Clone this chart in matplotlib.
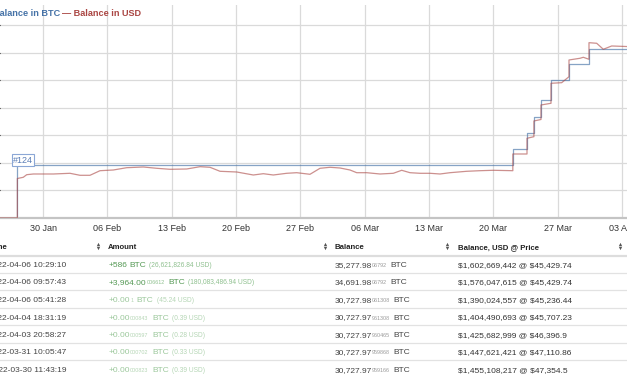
import matplotlib
matplotlib.use('Agg')
import matplotlib.pyplot as plt
import pandas as pd

plt.rcParams['font.family'] = ['Liberation Sans', 'DejaVu Sans']

# balance in BTC (steps)
btc_times = ['2022-01-25 00:00', '2022-01-27 05:00', '2022-03-22 03:00', '2022-03-23 16:00',
             '2022-03-24 10:00', '2022-03-25 04:30', '2022-03-26 06:40', '2022-03-28 05:40',
             '2022-03-30 09:53', '2022-04-04 00:00']
btc_balance = [0, 9653, 12567, 15427, 18342, 21310, 24953, 27868, 30728, 30728]

# balance in USD, millions
usd_times = ['2022-01-25 00:00', '2022-01-27 04:59', '2022-01-27 05:00', '2022-01-27 20:30',
             '2022-01-28 05:25', '2022-01-28 22:40', '2022-01-31 02:54', '2022-02-01 22:30',
             '2022-02-03 00:37', '2022-02-04 02:44', '2022-02-05 04:51', '2022-02-06 15:36',
             '2022-02-08 02:35', '2022-02-09 21:56', '2022-02-11 08:56', '2022-02-12 19:40',
             '2022-02-14 15:16', '2022-02-16 02:01', '2022-02-17 04:08', '2022-02-18 06:14',
             '2022-02-20 01:51', '2022-02-21 21:13', '2022-02-22 23:20', '2022-02-24 01:26',
             '2022-02-25 12:26', '2022-02-26 14:33', '2022-02-28 01:16', '2022-03-01 03:23',
             '2022-03-02 05:31', '2022-03-03 07:38', '2022-03-04 09:44', '2022-03-05 03:14',
             '2022-03-06 05:21', '2022-03-07 16:05', '2022-03-09 02:50', '2022-03-10 00:46',
             '2022-03-10 22:26', '2022-03-12 00:33', '2022-03-13 02:40', '2022-03-14 04:47',
             '2022-03-15 06:53', '2022-03-17 02:30', '2022-03-18 13:15', '2022-03-20 00:00',
             '2022-03-22 02:59', '2022-03-22 03:00', '2022-03-23 15:59', '2022-03-23 16:00',
             '2022-03-24 09:59', '2022-03-24 10:00', '2022-03-25 04:29', '2022-03-25 04:30',
             '2022-03-26 06:39', '2022-03-26 06:40', '2022-03-27 10:36', '2022-03-28 05:39',
             '2022-03-28 05:40', '2022-03-29 10:23', '2022-03-29 19:00', '2022-03-30 09:52',
             '2022-03-30 09:53', '2022-03-31 06:00', '2022-03-31 23:14', '2022-04-01 21:10',
             '2022-04-04 00:00']
usd_balance = [0, 0, 331.8, 341.9, 363.7, 369.6, 369.6, 375.5, 358.7, 358.7, 397.3, 403.2,
               422.5, 428.4, 417.5, 409.1, 411.6, 430.9, 425.9, 392.3, 386.4, 361.2, 372.1,
               361.2, 375.5, 380.5, 367.1, 417.5, 425.9, 420.0, 403.2, 380.5, 380.5, 369.6,
               375.5, 400.7, 380.5, 375.5, 375.5, 369.6, 380.5, 392.3, 397.3, 400.7, 397.3,
               537.6, 537.6, 669.5, 682.9, 814.8, 827.4, 949.2, 963.5, 1131.5, 1136.5,
               1186.9, 1327.2, 1341.5, 1349.9, 1333.1, 1472.5, 1467.5, 1417.1, 1444.8, 1438.9]

tick_dates = ['2022-01-30', '2022-02-06', '2022-02-13', '2022-02-20', '2022-02-27',
              '2022-03-06', '2022-03-13', '2022-03-20', '2022-03-27', '2022-04-03']
tick_labels = ['30 Jan', '06 Feb', '13 Feb', '20 Feb', '27 Feb',
               '06 Mar', '13 Mar', '20 Mar', '27 Mar', '03 Apr']

# table below the chart
tx_time = ['2022-04-06 10:29:10', '2022-04-06 09:57:43', '2022-04-06 05:41:28',
           '2022-04-04 18:31:19', '2022-04-03 20:58:27', '2022-03-31 10:05:47',
           '2022-03-30 11:43:19']
amt_main = ['+586', '+3,964.00', '+0.00', '+0.00', '+0.00', '+0.00', '+0.00']
amt_small = ['', '006612', '1', '000843', '000597', '000702', '000823']
amt_usd = ['(26,621,826.84 USD)', '(180,083,486.94 USD)', '(45.24 USD)', '(0.39 USD)',
           '(0.28 USD)', '(0.33 USD)', '(0.39 USD)']
bal_main = ['35,277.98', '34,691.98', '30,727.98', '30,727.97', '30,727.97',
            '30,727.97', '30,727.97']
bal_small = ['06792', '06792', '061308', '961308', '960465', '959868', '959166']
bal_usd = ['$1,602,669,442 @ $45,429.74', '$1,576,047,615 @ $45,429.74',
           '$1,390,024,557 @ $45,236.44', '$1,404,490,693 @ $45,707.23',
           '$1,425,682,999 @ $46,396.9', '$1,447,621,421 @ $47,110.86',
           '$1,455,108,217 @ $47,354.5']

BLUE = '#4572A7'
RED = '#AA4643'
W, H = 627, 376

fig = plt.figure(figsize=(W / 100, H / 100), dpi=100)
fig.patch.set_facecolor('white')

# chart
ax = fig.add_axes([0, 1 - 218 / H, 1, 213 / H])
ax.set_xlim(pd.Timestamp('2022-01-25 07:42'), pd.Timestamp('2022-04-03 13:08'))
ax.set_ylim(0, 38630)
ax.set_yticks(range(5000, 40000, 5000))
ax.set_xticks(pd.to_datetime(tick_dates).to_pydatetime())
ax.set_xticklabels(tick_labels)
ax.tick_params(axis='y', left=False, labelleft=False)
ax.tick_params(axis='x', length=0, pad=4, labelsize=6.5, colors='#333333')
ax.grid(True, color='#dadada', lw=0.9)
for s in ['top', 'left', 'right']:
    ax.spines[s].set_visible(False)
ax.spines['bottom'].set_color('#c4c4c4')
ax.spines['bottom'].set_linewidth(1.6)

ax.plot(pd.to_datetime(btc_times).to_pydatetime(), btc_balance, drawstyle='steps-post',
        color=BLUE, lw=0.9, alpha=0.65)

ax2 = ax.twinx()
ax2.set_ylim(0, 1789)
ax2.set_yticks([])
for s in ax2.spines.values():
    s.set_visible(False)
ax2.plot(pd.to_datetime(usd_times).to_pydatetime(), usd_balance, color=RED, lw=0.9, alpha=0.6)

ax.annotate('#124', xy=(pd.Timestamp(btc_times[1]), btc_balance[1]), xytext=(4.1, 3.4),
            textcoords='offset points', ha='center', va='center', fontsize=6.5,
            color='#5a7db5', zorder=5,
            bbox=dict(boxstyle='square,pad=0.12', fc='white', ec='#8ba7d6', lw=0.8))

# overlay in pixel coordinates for legend + table
ov = fig.add_axes([0, 0, 1, 1])
ov.set_xlim(0, W)
ov.set_ylim(H, 0)
ov.axis('off')
ov.patch.set_alpha(0)

ov.text(60.5, 13, 'Balance in BTC', ha='right', va='center', fontsize=6.6,
        fontweight='bold', color=BLUE)
ov.text(62, 13, '\u2014 Balance in USD', ha='left', va='center', fontsize=6.6,
        fontweight='bold', color=RED)

renderer = fig.canvas.get_renderer()


def chain(x, y, parts):
    for txt, size, color, gap in parts:
        if not txt:
            continue
        x += gap
        t = ov.text(x, y, txt, fontsize=size, color=color, ha='left', va='baseline',
                    parse_math=False)
        x += t.get_window_extent(renderer).width
    return x


def sort_icon(x, y):
    ov.plot(x, y - 1.8, marker='^', ms=2.4, color='#555555', mew=0)
    ov.plot(x, y + 1.8, marker='v', ms=2.4, color='#555555', mew=0)


# header
hy = 246
ov.text(7.5, hy + 2.7, 'Time', ha='right', va='baseline', fontsize=5.6,
        fontweight='bold', color='#222222')
for x, lab in [(108.3, 'Amount'), (334.5, 'Balance'), (457.7, 'Balance, USD @ Price')]:
    ov.text(x, hy + 2.7, lab, ha='left', va='baseline', fontsize=5.6,
            fontweight='bold', color='#222222')
for x in [97.7, 324.5, 447, 620]:
    sort_icon(x, hy)
ov.plot([0, W], [256.3, 256.3], color='#dddddd', lw=1.6)

row_y = [264, 281.5, 299, 316.5, 334, 351.5, 369]
for yy in [272.5, 290, 307.5, 325, 342.5, 360]:
    ov.plot([0, W], [yy, yy], color='#e2e2e2', lw=0.9)

for i, yc in enumerate(row_y):
    base = yc + 3
    ov.text(66.5, base, tx_time[i], ha='right', va='baseline', fontsize=6, color='#444444')
    if i < 2:
        g1, g2 = '#559955', '#8fc08f'
    else:
        g1, g2 = '#9cc89c', '#b5d6b5'
    btc_gap = 3.6 if amt_small[i] else 2.4
    chain(108.3, base, [(amt_main[i], 6, g1, 0),
                        (amt_small[i], 3.9, g2, 0.4),
                        ('BTC', 6, g1, btc_gap),
                        (amt_usd[i], 4.8, g2, 3.0)])
    chain(334.5, base, [(bal_main[i], 6, '#444444', 0),
                        (bal_small[i], 3.9, '#999999', 0.4),
                        ('BTC', 6, '#444444', 3.3)])
    ov.text(457.7, base, bal_usd[i], ha='left', va='baseline', fontsize=6, color='#333333',
            parse_math=False)

fig.savefig('out.png', dpi=100)
